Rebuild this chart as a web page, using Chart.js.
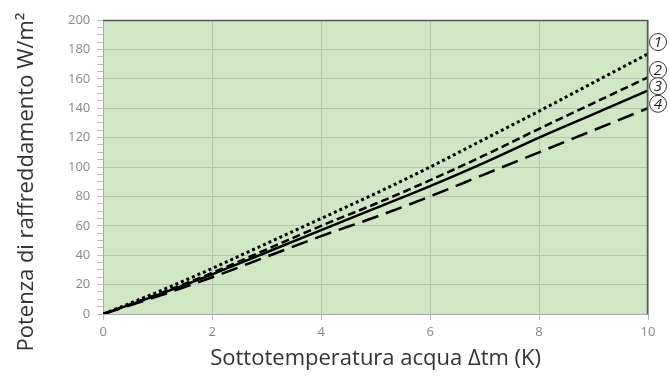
<!DOCTYPE html>
<html><head><meta charset="utf-8">
<script src="https://cdn.jsdelivr.net/npm/chart.js@4/dist/chart.umd.min.js"></script>
<style>html,body{margin:0;padding:0;background:#fff}#wrap{width:670px;height:376px}</style>
</head><body><div id="wrap"><canvas id="c" width="670" height="376"></canvas></div>
<script>
const xValues = [0,1,2,3,4,5,6,7,8,9,10];
const curve1 = [0,15,31,48,65,82,100,119,138,157.5,177];
const curve2 = [0,13.5,28,44,60,75,91,108,126,143.5,161];
const curve3 = [0,13,27,42,57,72,87,103,120,136,152];
const curve4 = [0,12,25,39,53,66,80,95,110,125,140];
const curveLabels = ['1','2','3','4'];
const labelAnchors = [185,166,155,143];
const xTicks = [0,2,4,6,8,10];
const yTitle = 'Potenza di raffreddamento W/m²';
const xTitle = 'Sottotemperatura acqua Δtm (K)';

const mk = (arr) => xValues.map((x,i)=>({x:x,y:arr[i]}));

const bgPlugin = {
  id:'bg',
  beforeDraw(chart){
    const {ctx, chartArea:a} = chart;
    ctx.save(); ctx.fillStyle='#cfe7c5';
    ctx.fillRect(a.left,a.top,a.right-a.left,a.bottom-a.top);
    ctx.restore();
  },
  afterDraw(chart){
    const {ctx, chartArea:a, scales} = chart;
    ctx.save();
    ctx.strokeStyle='#555'; ctx.lineWidth=1.5;
    ctx.beginPath(); ctx.moveTo(a.left,a.top+0.5); ctx.lineTo(a.right,a.top+0.5); ctx.stroke();
    ctx.beginPath(); ctx.moveTo(a.right-0.5,a.top); ctx.lineTo(a.right-0.5,a.bottom); ctx.stroke();
    const xs = scales.x.getPixelForValue(10)+10;
    curveLabels.forEach((t,i)=>{
      const y = scales.y.getPixelForValue(labelAnchors[i]);
      ctx.beginPath(); ctx.arc(xs,y,8.5,0,Math.PI*2);
      ctx.fillStyle='#fff'; ctx.fill();
      ctx.strokeStyle='#333'; ctx.lineWidth=1; ctx.stroke();
      ctx.fillStyle='#222'; ctx.font='italic 15px "Open Sans"';
      ctx.textAlign='center'; ctx.textBaseline='middle';
      ctx.fillText(t,xs,y+1);
    });
    ctx.translate(27,182); ctx.rotate(-Math.PI/2);
    ctx.fillStyle='#333'; ctx.font='22px "Open Sans"';
    ctx.textAlign='center'; ctx.textBaseline='middle';
    ctx.fillText(yTitle,0,0);
    ctx.restore();
  }
};

const common = {pointRadius:0, borderColor:'#000', fill:false, cubicInterpolationMode:'monotone', borderWidth:2.5};
new Chart(document.getElementById('c'),{
  type:'line',
  data:{datasets:[
    Object.assign({},common,{data:mk(curve1), borderDash:[3,3], borderWidth:3}),
    Object.assign({},common,{data:mk(curve2), borderDash:[8,4]}),
    Object.assign({},common,{data:mk(curve3)}),
    Object.assign({},common,{data:mk(curve4), borderDash:[17,8]})
  ]},
  options:{
    responsive:false, animation:false,
    layout:{padding:{top:20,right:22,left:61,bottom:4}},
    plugins:{legend:{display:false},tooltip:{enabled:false}},
    scales:{
      x:{type:'linear',min:0,max:10,
        afterBuildTicks:(s)=>{s.ticks=xTicks.map(v=>({value:v}));},
        grid:{color:'#b5c4ae',tickLength:6,tickColor:'#bbb'},
        border:{color:'#aaa'},
        ticks:{color:'#888',font:{family:'Open Sans',size:13},padding:4},
        title:{display:true,text:xTitle,color:'#333',font:{family:'Open Sans',size:22},padding:{top:2,bottom:0}}
      },
      y:{min:0,max:200,
        ticks:{stepSize:5,autoSkip:false,color:'#888',font:{family:'Open Sans',size:13},padding:7,
          callback:(v)=> v%20===0 ? String(v) : ''},
        grid:{color:(c)=> (c.tick && c.tick.value%20===0) ? '#b5c4ae' : 'rgba(0,0,0,0)',tickLength:6,tickColor:'#bbb'},
        border:{color:'#aaa'}
      }
    }
  },
  plugins:[bgPlugin]
});
</script></body></html>
